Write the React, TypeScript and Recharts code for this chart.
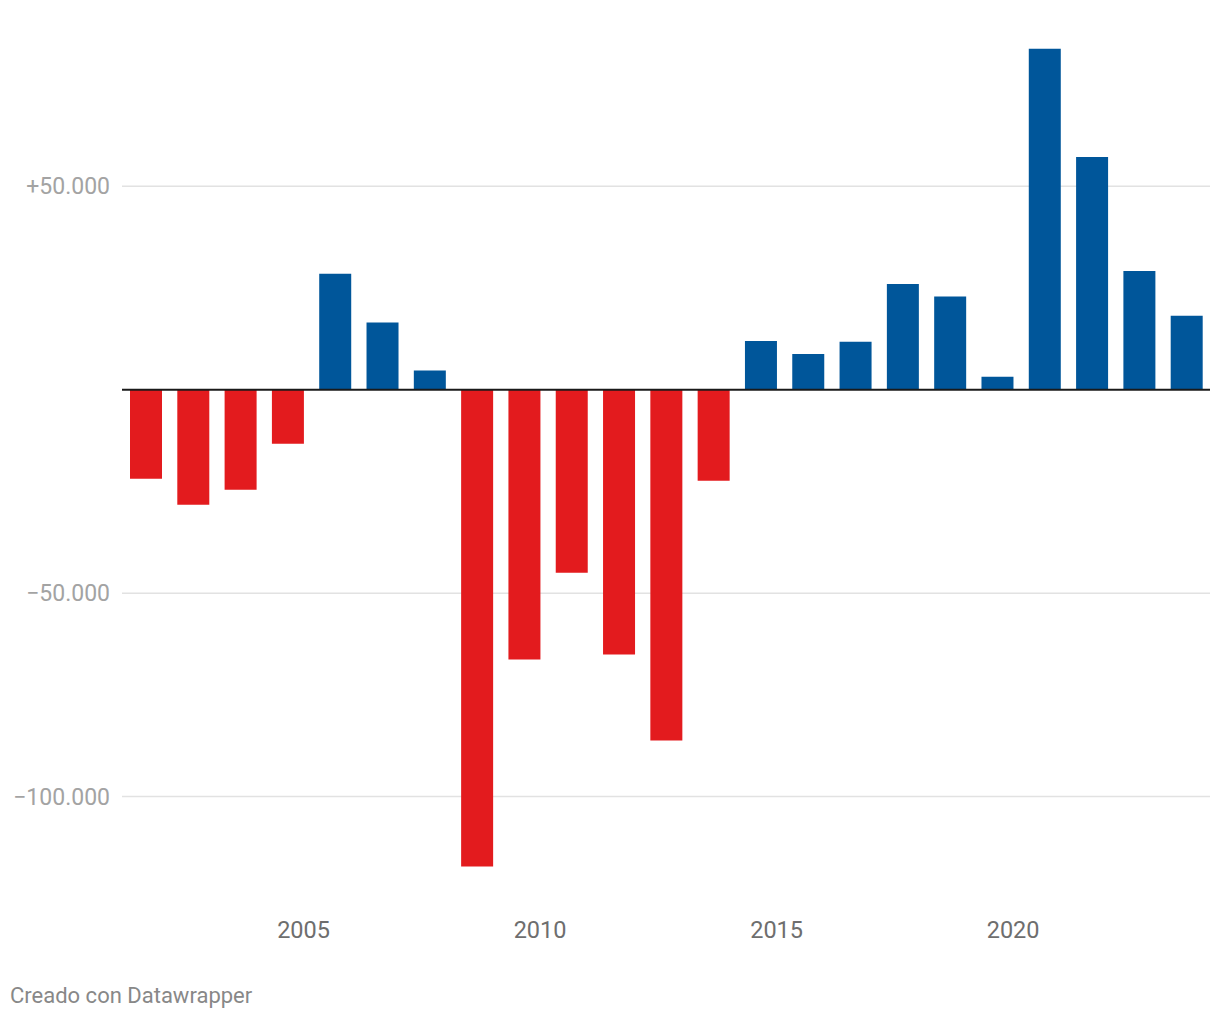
import { BarChart, Bar, XAxis, YAxis, CartesianGrid, ReferenceLine, Cell } from "recharts";

const years = [
  2002, 2003, 2004, 2005, 2006, 2007, 2008, 2009, 2010, 2011, 2012, 2013,
  2014, 2015, 2016, 2017, 2018, 2019, 2020, 2021, 2022, 2023, 2024,
];
const values = [
  -21900, -28300, -24600, -13300, 28500, 16500, 4700, -117200, -66300, -45000,
  -65100, -86200, -22400, 12000, 8800, 11800, 26000, 22900, 3200, 83800, 57200,
  29200, 18200,
];
const yTicks = [-100000, -50000, 50000];
const xLabels = [2005, 2010, 2015, 2020];

const BLUE = "#00569a";
const RED = "#e31b1e";

const data = years.map((year, i) => ({ year, value: values[i] }));

function fmt(v: number) {
  const s = Math.abs(v).toLocaleString("de-DE");
  return (v > 0 ? "+" : "\u2212") + s;
}

function YTick({ y, payload }: any) {
  return (
    <text x={110} y={y + 8} textAnchor="end" fill="#a3a3a3" fontSize={23} fontFamily="Roboto">
      {fmt(payload.value)}
    </text>
  );
}

function XTick({ x, payload }: any) {
  if (!xLabels.includes(payload.value)) return null;
  return (
    <text x={x + 16} y={938} textAnchor="middle" fill="#6e6e6e" fontSize={23.5} fontFamily="Roboto">
      {payload.value}
    </text>
  );
}

export default function App() {
  return (
    <div style={{ position: "absolute", left: 0, top: 0, width: 1220, height: 1020, background: "#fff" }}>
      <BarChart
        width={1220}
        height={960}
        data={data}
        margin={{ top: 23.5, right: 10, bottom: 0, left: 0 }}
        barSize={32}
        barCategoryGap={0}
      >
        <CartesianGrid vertical={false} horizontalValues={yTicks} stroke="#e2e2e2" strokeWidth={1.5} />
        <XAxis
          dataKey="year"
          axisLine={false}
          tickLine={false}
          interval={0}
          height={82}
          tick={<XTick />}
        />
        <YAxis
          domain={[-120000, 90000]}
          ticks={yTicks}
          axisLine={false}
          tickLine={false}
          width={122}
          tick={<YTick />}
          allowDataOverflow
        />
        <Bar dataKey="value" isAnimationActive={false}>
          {data.map((d) => (
            <Cell key={d.year} fill={d.value >= 0 ? BLUE : RED} />
          ))}
        </Bar>
        <ReferenceLine y={0} stroke="#1a1a1a" strokeWidth={2} />
      </BarChart>
      <div
        style={{
          position: "absolute",
          left: 10,
          top: 983,
          fontFamily: "Roboto",
          fontSize: 22,
          color: "#888",
        }}
      >
        Creado con Datawrapper
      </div>
    </div>
  );
}
